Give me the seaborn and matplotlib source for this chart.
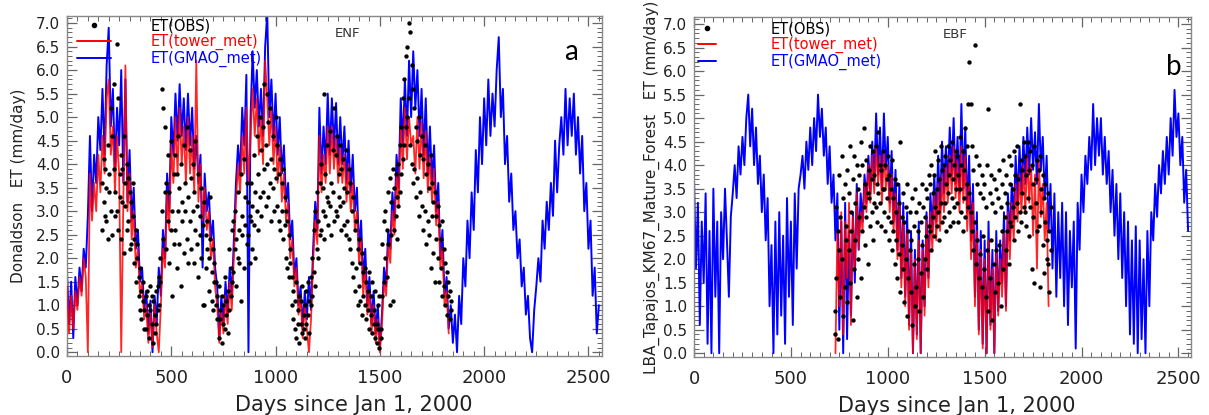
import numpy as np
import pandas as pd
import matplotlib
matplotlib.use("Agg")
import matplotlib.pyplot as plt
import seaborn as sns
from matplotlib.lines import Line2D
from matplotlib.ticker import MultipleLocator, FormatStrFormatter

# ---------------- data ----------------
line_days = np.arange(0, 2560, 10)          # model output, every 10 days
obs_days_enf = np.arange(168, 1842, 7)      # observations, weekly
obs_days_ebf = np.arange(728, 1842, 7)
tower_days_enf = np.arange(0, 1840, 10)
tower_days_ebf = np.arange(730, 1840, 10)

enf_gmao = [
    1.7,0.6,1.5,0.3,1.6,1.0,1.8,1.3,2.2,1.8,
    2.9,4.6,3.0,4.2,3.6,5.0,4.3,5.6,4.2,6.1,
    6.9,4.8,5.6,3.9,5.2,4.4,6.0,3.6,5.8,3.2,
    4.3,2.8,3.5,2.2,2.6,1.5,1.8,0.9,1.3,0.4,
    1.1,0.0,1.2,0.6,1.8,1.2,2.6,2.0,3.8,3.0,
    5.0,4.2,5.5,4.5,5.7,4.6,5.4,4.3,5.5,4.4,
    5.2,3.9,4.6,3.6,4.2,1.8,3.8,3.0,3.4,2.4,
    2.8,1.8,1.4,0.3,1.2,0.6,1.5,0.8,1.8,1.2,
    2.4,3.6,4.4,3.8,5.2,4.4,5.9,0.0,5.0,6.4,
    5.2,6.0,4.8,5.6,4.6,6.5,7.2,5.0,5.8,4.5,
    5.5,4.2,5.0,3.8,4.4,3.2,3.6,2.4,2.8,1.6,
    2.0,1.0,1.4,0.5,1.3,0.7,1.6,0.9,2.2,3.2,
    2.6,5.2,3.8,4.8,4.0,5.5,4.2,5.4,4.3,5.3,
    4.0,5.0,4.0,4.8,3.6,4.5,3.4,4.2,3.0,3.5,
    2.2,2.8,1.5,2.2,1.0,1.6,0.6,1.3,0.4,1.0,
    0.1,0.8,1.8,1.4,2.6,2.2,3.4,2.8,4.2,3.5,
    5.4,4.4,5.8,4.6,6.2,5.0,6.4,5.2,6.0,4.6,
    5.6,4.2,5.4,3.8,4.8,3.6,4.4,3.0,3.6,2.0,
    2.6,1.2,1.6,0.5,1.0,0.2,0.8,0.0,1.2,0.6,
    2.0,1.4,2.8,2.0,3.4,2.6,4.3,3.4,5.0,4.0,
    5.4,4.4,5.8,4.6,5.5,4.8,6.0,6.7,5.0,5.6,
    4.0,4.6,3.2,3.8,2.6,3.0,2.0,2.4,1.4,1.8,
    0.8,1.2,0.3,0.0,0.9,1.4,2.0,1.5,2.8,2.2,
    3.2,2.6,3.6,2.9,4.5,3.4,4.4,5.0,4.2,5.6,
    4.4,5.4,4.6,5.5,4.2,5.0,3.8,4.6,3.0,3.6,
    2.2,2.8,1.2,1.8,0.4,1.0,
]

enf_tower = [
    1.4,0.4,1.2,0.5,1.3,0.9,1.6,1.2,2.0,1.6,
    0.0,3.8,2.8,3.6,3.0,4.2,3.4,4.6,3.8,5.4,
    5.8,4.2,4.8,3.4,4.6,3.8,0.0,3.2,6.1,3.0,
    3.8,2.4,3.0,1.8,2.2,1.2,1.5,0.7,1.0,0.2,
    0.9,0.1,1.0,0.4,0.0,1.0,2.2,1.8,3.4,2.6,
    4.4,3.6,5.0,3.8,5.2,4.0,4.8,3.6,5.0,3.8,
    4.6,3.4,6.2,3.2,4.0,2.8,3.5,2.6,3.0,2.0,
    2.4,1.4,1.0,0.2,0.9,0.4,1.2,0.6,1.5,0.9,
    2.0,3.2,4.0,3.4,4.6,3.8,5.2,3.6,4.6,5.6,
    4.6,5.4,4.2,5.0,4.0,6.2,5.4,4.4,5.2,4.0,
    4.8,3.6,4.4,3.2,3.8,2.8,3.2,2.0,2.4,1.4,
    1.8,0.8,1.2,0.3,1.0,0.5,0.0,0.7,1.9,2.8,
    2.3,4.6,3.4,4.2,3.6,4.8,3.8,4.8,3.9,4.6,
    3.6,4.4,3.6,4.2,3.2,4.0,3.0,3.6,2.6,3.0,
    1.9,2.4,1.2,1.8,0.8,1.3,0.4,1.0,0.2,0.7,
    0.0,0.6,1.5,1.2,2.3,1.9,3.0,2.5,3.8,3.1,
    4.8,3.9,5.2,4.1,5.0,4.4,4.6,3.8,5.0,3.9,
    4.9,3.7,4.7,3.4,4.2,3.2,3.9,2.7,3.2,1.8,
    2.2,1.0,1.3,0.4,
]

enf_obs_a = [
    3.6,3.2,3.9,2.8,4.4,3.4,3.0,4.6,5.7,3.4,
    6.55,5.4,3.8,4.2,3.2,4.6,3.6,4.0,2.8,3.4,
    3.2,2.9,2.4,2.6,2.0,1.6,1.8,1.3,1.1,0.9,
    1.2,0.8,1.0,1.4,0.6,1.1,0.4,1.3,0.9,1.6,
    2.0,5.6,5.2,4.8,3.6,4.2,3.4,4.5,3.0,3.8,
    4.2,3.8,4.6,3.5,4.0,3.2,4.4,3.6,4.8,3.3,
    4.3,3.7,4.0,3.4,4.5,3.1,3.8,2.9,3.5,2.7,
    3.2,2.5,2.8,2.0,2.4,1.7,2.2,1.9,1.5,1.2,
    1.4,0.9,1.2,0.6,1.6,0.8,1.3,2.2,1.8,2.6,
    2.8,3.0,2.4,3.4,2.6,3.8,2.9,4.1,3.3,3.6,
    3.2,2.9,3.6,3.1,4.2,3.4,4.6,3.8,5.0,4.3,
    4.8,5.7,4.4,5.5,4.9,5.2,4.1,4.6,3.9,5.0,
    4.4,3.8,4.1,3.6,3.9,3.3,3.0,2.8,2.5,2.2,
    1.6,1.3,1.1,1.5,0.9,1.2,0.6,1.4,0.8,1.0,
    1.3,1.5,1.1,1.6,2.0,2.6,3.0,3.4,2.8,3.6,
    4.0,3.5,5.5,3.8,4.4,3.2,4.7,3.6,4.3,5.2,
    4.2,4.6,3.8,4.4,3.9,4.1,3.5,4.3,3.4,3.9,
    3.6,3.0,3.3,2.6,2.8,2.2,2.4,1.9,2.1,1.7,
    1.8,1.5,1.3,1.7,1.2,1.5,0.9,1.3,0.6,1.0,
    1.2,0.5,2.3,2.8,3.0,2.6,3.4,3.7,3.2,3.9,
    3.5,3.8,3.3,4.0,4.4,4.8,5.4,5.8,6.3,6.5,
    7.0,6.8,6.1,5.6,5.2,4.8,4.5,5.0,4.2,4.6,
    4.1,4.4,3.8,4.0,3.5,4.2,3.6,3.2,3.4,2.9,
    3.1,2.7,2.4,2.8,2.2,1.9,1.7,1.5,1.3,1.1,
]

enf_obs_b = [
    2.6,4.1,2.9,3.5,2.4,3.8,5.2,2.5,3.9,2.9,
    3.0,2.6,3.3,2.4,3.9,2.1,3.1,2.6,3.7,2.2,
    2.3,3.6,1.9,1.5,2.3,1.2,0.9,0.7,1.5,0.5,
    0.5,1.3,0.3,0.9,1.2,0.2,0.8,0.6,1.4,1.0,
    1.5,3.0,2.4,3.4,2.2,2.8,1.9,2.6,1.2,2.3,
    2.6,1.8,3.0,2.3,1.4,2.8,2.1,3.0,2.4,1.9,
    2.8,2.2,3.0,1.9,2.6,2.3,1.6,2.5,2.0,1.0,
    1.0,1.8,2.2,1.3,3.3,1.1,0.9,1.5,1.0,0.7,
    0.3,0.7,0.2,1.0,0.5,1.1,0.4,0.9,1.2,1.5,
    1.7,2.2,1.4,2.0,1.9,1.1,2.5,1.8,2.7,2.3,
    2.5,1.9,2.8,2.2,2.7,2.0,3.0,2.6,3.3,2.9,
    3.4,3.9,3.1,4.0,3.3,3.6,2.8,3.5,3.0,3.7,
    3.1,2.8,2.6,3.0,2.4,2.7,2.0,1.8,1.6,1.9,
    1.0,0.7,0.5,0.3,0.6,0.2,1.1,0.4,0.5,0.3,
    0.6,0.8,0.4,1.0,1.2,1.7,1.4,2.2,2.0,2.5,
    2.6,3.0,2.4,2.9,3.3,2.7,3.1,2.5,3.4,2.8,
    3.0,2.9,3.3,3.1,2.6,3.2,2.7,2.5,2.8,2.4,
    2.2,1.9,1.6,1.3,1.8,1.0,1.4,1.1,0.8,1.2,
    1.0,0.7,0.9,0.5,0.8,0.4,0.6,0.3,0.2,0.5,
    0.1,0.3,1.2,1.5,2.0,1.6,2.3,1.0,2.5,1.1,
    2.6,2.9,2.4,3.1,3.4,3.8,4.1,4.4,4.8,5.0,
    5.4,4.4,4.0,3.6,3.9,3.3,3.7,2.9,3.4,3.1,
    2.6,3.0,2.3,2.8,2.5,1.8,2.9,2.1,1.5,2.4,
    2.0,1.5,1.8,1.2,1.4,1.0,0.8,1.2,0.7,0.9,
]

ebf_gmao = [
    3.7,1.8,3.2,0.6,2.8,1.5,3.4,0.2,2.6,0.0,
    3.5,1.2,2.8,0.0,3.0,2.0,3.5,2.4,1.2,2.9,
    3.4,4.0,3.3,4.4,3.8,4.6,4.0,5.0,5.5,4.4,
    5.2,4.0,4.8,3.6,4.2,3.0,3.8,2.4,3.3,1.0,
    2.3,0.0,2.8,0.4,3.0,0.8,2.5,0.2,3.3,1.2,
    2.8,0.6,3.4,1.8,3.5,3.8,4.2,3.5,4.5,3.9,
    4.8,4.0,5.0,4.3,5.5,4.6,5.2,4.2,4.8,3.6,
    4.4,3.2,3.8,2.4,3.4,0.5,2.8,0.0,3.2,0.3,
    2.6,0.8,3.0,1.5,3.6,2.2,3.4,2.8,3.8,3.2,
    4.2,3.4,4.5,3.6,5.1,3.8,4.8,3.5,5.1,3.9,
    4.6,3.2,4.3,2.8,3.9,2.2,3.6,1.6,3.2,1.2,
    3.0,0.6,2.6,0.0,2.2,0.4,2.8,0.0,2.4,1.0,
    3.0,1.6,3.4,2.6,3.8,2.8,4.2,3.0,4.5,3.4,
    4.4,3.6,4.8,3.8,5.0,3.6,4.6,3.4,5.3,3.5,
    4.8,3.0,4.2,2.4,3.6,1.2,3.0,0.5,2.6,0.2,
    2.4,0.0,2.8,0.6,2.2,0.0,2.6,0.9,2.4,1.5,
    3.0,1.0,3.4,2.4,3.6,2.8,4.2,3.2,4.4,3.4,
    4.6,3.6,4.8,3.8,5.0,3.9,4.7,3.6,5.3,3.9,
    4.6,3.3,4.2,2.6,3.6,1.8,3.4,1.2,3.0,1.6,
    3.2,1.0,3.0,0.6,2.6,1.4,2.8,0.1,3.2,2.2,
    3.8,3.0,4.2,3.6,4.6,3.9,5.3,4.0,5.0,4.2,
    5.0,3.8,4.6,3.6,4.3,3.0,3.9,2.5,3.6,2.0,
    3.4,1.6,3.0,1.0,2.8,0.4,2.4,0.2,2.7,0.0,
    2.4,0.3,2.0,0.0,2.6,1.0,3.0,2.4,3.6,2.9,
    4.0,3.4,4.3,3.6,4.6,3.8,5.0,4.2,5.6,4.6,
    5.1,4.0,4.6,3.2,3.9,2.6,
]

ebf_tower = [
    0.0,2.6,1.0,3.0,0.4,2.8,1.6,
    3.2,0.6,2.9,1.8,3.4,2.2,3.0,2.6,3.6,3.0,
    4.0,3.2,4.2,3.4,4.4,3.6,4.2,3.2,4.3,3.5,
    4.0,3.0,3.8,2.6,3.4,2.0,3.2,1.4,2.8,1.0,
    2.6,0.5,2.2,0.0,2.0,0.3,2.4,0.0,2.2,0.8,
    2.8,1.4,3.0,2.2,3.4,2.4,3.6,2.6,3.8,3.0,
    4.0,3.2,4.2,3.4,4.4,3.3,4.1,3.0,4.4,3.2,
    4.2,2.6,3.6,2.0,3.2,1.0,2.6,0.4,2.2,0.1,
    2.0,0.0,2.4,0.5,1.8,0.0,2.2,0.8,2.0,1.2,
    2.6,0.9,3.0,2.0,3.2,2.4,3.6,2.8,3.8,3.0,
    4.0,3.0,4.2,3.2,4.0,2.5,3.8,1.8,4.1,2.9,
    3.6,2.4,3.2,1.0,
]

ebf_obs_a = [
    0.4,3.1,2.6,3.8,2.9,4.2,3.3,3.6,2.4,3.9,
    3.4,4.4,3.0,3.7,4.2,3.2,4.0,3.5,3.8,4.5,
    4.0,4.8,3.6,4.1,3.4,3.9,4.4,3.7,4.3,3.8,
    4.4,3.6,4.7,4.0,3.9,4.3,3.5,4.0,3.7,4.2,
    3.8,3.5,4.1,3.3,3.7,3.0,3.6,3.2,4.5,2.9,
    3.4,2.8,3.1,3.6,2.6,3.0,2.4,3.3,2.7,3.5,
    3.0,2.6,3.2,2.8,3.6,3.1,2.9,3.5,3.3,3.8,
    3.6,4.0,3.4,3.8,4.3,3.5,4.1,3.7,4.4,3.9,
    4.0,4.2,3.6,4.4,3.8,4.1,4.5,3.7,4.0,4.3,
    4.2,3.8,4.6,4.0,4.3,3.9,4.8,4.4,5.3,6.2,
    5.3,4.4,3.9,6.55,4.2,3.6,4.0,3.4,3.8,3.3,
    3.6,3.1,4.0,5.2,3.4,3.8,3.2,3.7,3.0,3.5,
    3.3,3.9,3.1,3.6,4.1,3.4,3.8,3.2,4.2,3.6,
    4.0,3.5,4.3,3.8,4.4,3.7,5.3,4.1,3.9,4.5,
    4.2,3.8,4.5,3.9,4.3,4.0,3.6,4.4,3.7,4.1,
    3.9,4.2,3.5,3.8,3.3,3.6,2.0,3.4,1.3,3.1,
]

ebf_obs_b = [
    0.9,1.6,0.3,2.2,1.2,2.0,0.8,1.4,2.7,1.1,
    2.2,1.5,2.6,0.7,1.8,2.4,1.2,2.0,2.9,1.6,
    2.6,3.1,2.3,2.9,1.9,3.3,2.7,3.0,2.4,3.2,
    3.1,2.8,3.4,3.2,2.7,3.5,3.0,2.6,3.3,2.9,
    2.4,2.8,2.2,2.6,1.9,2.4,1.6,2.1,1.3,2.3,
    1.8,1.1,2.0,0.8,1.6,2.2,1.3,0.6,1.9,1.0,
    1.4,2.0,0.9,1.7,2.3,1.2,2.0,2.5,1.8,2.7,
    2.6,2.2,2.9,2.5,3.1,2.7,3.0,2.4,3.2,2.8,
    2.9,3.2,2.6,3.4,3.0,2.7,3.3,2.8,3.1,3.5,
    3.2,2.8,3.5,3.0,2.6,3.3,2.9,3.6,3.1,3.4,
    3.0,2.6,2.2,2.8,1.9,2.4,1.6,2.1,1.4,2.5,
    1.8,1.2,2.2,0.9,1.6,2.4,0.7,1.9,1.3,2.2,
    1.5,2.3,1.0,2.6,1.8,2.9,2.2,2.6,1.9,2.8,
    2.7,3.1,2.4,2.9,3.2,2.6,3.0,2.8,3.4,3.1,
    3.0,2.7,3.3,2.5,3.1,1.8,2.9,1.5,3.2,2.6,
    2.7,1.4,3.0,2.3,1.7,2.8,2.4,1.9,2.6,2.2,
]

labels = ["ET(OBS)", "ET(tower_met)", "ET(GMAO_met)"]
panel_tags = ["ENF", "EBF"]
panel_letters = ["a", "b"]
ylabels = ["Donaldson   ET (mm/day)",
           "LBA_Tapajos_KM67_Mature_Forest   ET (mm/day)"]
xlabel = "Days since Jan 1, 2000"

# ---------------- styling ----------------
sns.set_theme(style="white")
plt.rcParams["font.family"] = ["DejaVu Sans"]
TXT = "#222222"
BLUE = "#0000ff"
RED = "#ff0000"

fig = plt.figure(figsize=(12.09, 4.15), dpi=100)
W, H = 1209, 415
axL = fig.add_axes([67 / W, 1 - 356 / H, 535 / W, 340 / H])
axR = fig.add_axes([694 / W, 1 - 357 / H, 497 / W, 340 / H])


def draw(ax, gmao, tower_days, tower, obs_days, obs_a, obs_b):
    sns.lineplot(x=line_days, y=gmao, ax=ax, color=BLUE, lw=1.4,
                 estimator=None, sort=False, zorder=2)
    sns.lineplot(x=tower_days, y=tower, ax=ax, color=RED, lw=1.3, alpha=0.85,
                 estimator=None, sort=False, zorder=3)
    for ov in (obs_a, obs_b):
        sns.scatterplot(x=obs_days, y=ov, ax=ax, color="black", s=10,
                        linewidth=0, zorder=4)


draw(axL, enf_gmao, tower_days_enf, enf_tower, obs_days_enf, enf_obs_a, enf_obs_b)
draw(axR, ebf_gmao, tower_days_ebf, ebf_tower, obs_days_ebf, ebf_obs_a, ebf_obs_b)

for ax in (axL, axR):
    ax.set_xlim(0, 2565)
    ax.set_ylim(-0.08, 7.15)
    ax.xaxis.set_major_locator(MultipleLocator(500))
    ax.xaxis.set_minor_locator(MultipleLocator(50))
    ax.yaxis.set_major_locator(MultipleLocator(0.5))
    ax.yaxis.set_minor_locator(MultipleLocator(0.1))
    ax.yaxis.set_major_formatter(FormatStrFormatter("%.1f"))
    ax.tick_params(which="both", direction="in", top=True, right=True,
                   bottom=True, left=True, color="#666666", labelcolor=TXT)
    ax.tick_params(which="major", length=7, width=0.9)
    ax.tick_params(which="minor", length=3.5, width=0.7)
    ax.tick_params(axis="x", labelsize=13, pad=9)
    ax.tick_params(axis="y", labelsize=11, pad=5)
    for sp in ax.spines.values():
        sp.set_color("#888888")
        sp.set_linewidth(1.0)
    ax.set_xlabel(xlabel, fontsize=15, color=TXT)

axL.set_ylabel(ylabels[0], fontsize=11, color=TXT)
axR.set_ylabel(ylabels[1], fontsize=11, color=TXT)
for ax, xc, yc in ((axL, (19 - 67) / 535, 0.5), (axR, (652 - 694) / 497, 0.5)):
    ax.yaxis.label.set_va("center")
    ax.yaxis.set_label_coords(xc, yc)
for ax, xc in ((axL, (354 - 67) / 535), (axR, (957 - 694) / 497)):
    ax.xaxis.label.set_va("center")
    ax.xaxis.set_label_coords(xc, -(405 - 356) / 340)

# legends
handles = [Line2D([], [], color="black", marker="o", ls="none", markersize=3),
           Line2D([], [], color=RED, lw=1.4),
           Line2D([], [], color=BLUE, lw=1.4)]
legcfg = [((77 - 67) / 535, 1 - (18 - 16) / 340, 2.35, 2.7),
          ((698 - 694) / 497, 1 - (21 - 17) / 340, 1.2, 3.8)]
for ax, (bx, by, hl, tp) in zip((axL, axR), legcfg):
    leg = ax.legend(handles, labels, loc="upper left", bbox_to_anchor=(bx, by),
                    frameon=False, fontsize=10.5, handlelength=hl, numpoints=1,
                    handletextpad=tp, labelspacing=0.05, borderpad=0,
                    borderaxespad=0, labelcolor=["black", RED, BLUE])

axL.text((348 - 67) / 535, 1 - (33 - 16) / 340, panel_tags[0], transform=axL.transAxes,
         ha="center", va="center", fontsize=9.5, color="#333333")
axR.text((955 - 694) / 497, 1 - (35 - 17) / 340, panel_tags[1], transform=axR.transAxes,
         ha="center", va="center", fontsize=9.5, color="#333333")
axL.text((571 - 67) / 535, 1 - (60 - 16) / 340, panel_letters[0], transform=axL.transAxes,
         ha="center", va="baseline", fontsize=20, family="Lato", color="black")
axR.text((1174 - 694) / 497, 1 - (75 - 17) / 340, panel_letters[1], transform=axR.transAxes,
         ha="center", va="baseline", fontsize=20, family="Lato", color="black")

fig.savefig("out.png", dpi=100)
